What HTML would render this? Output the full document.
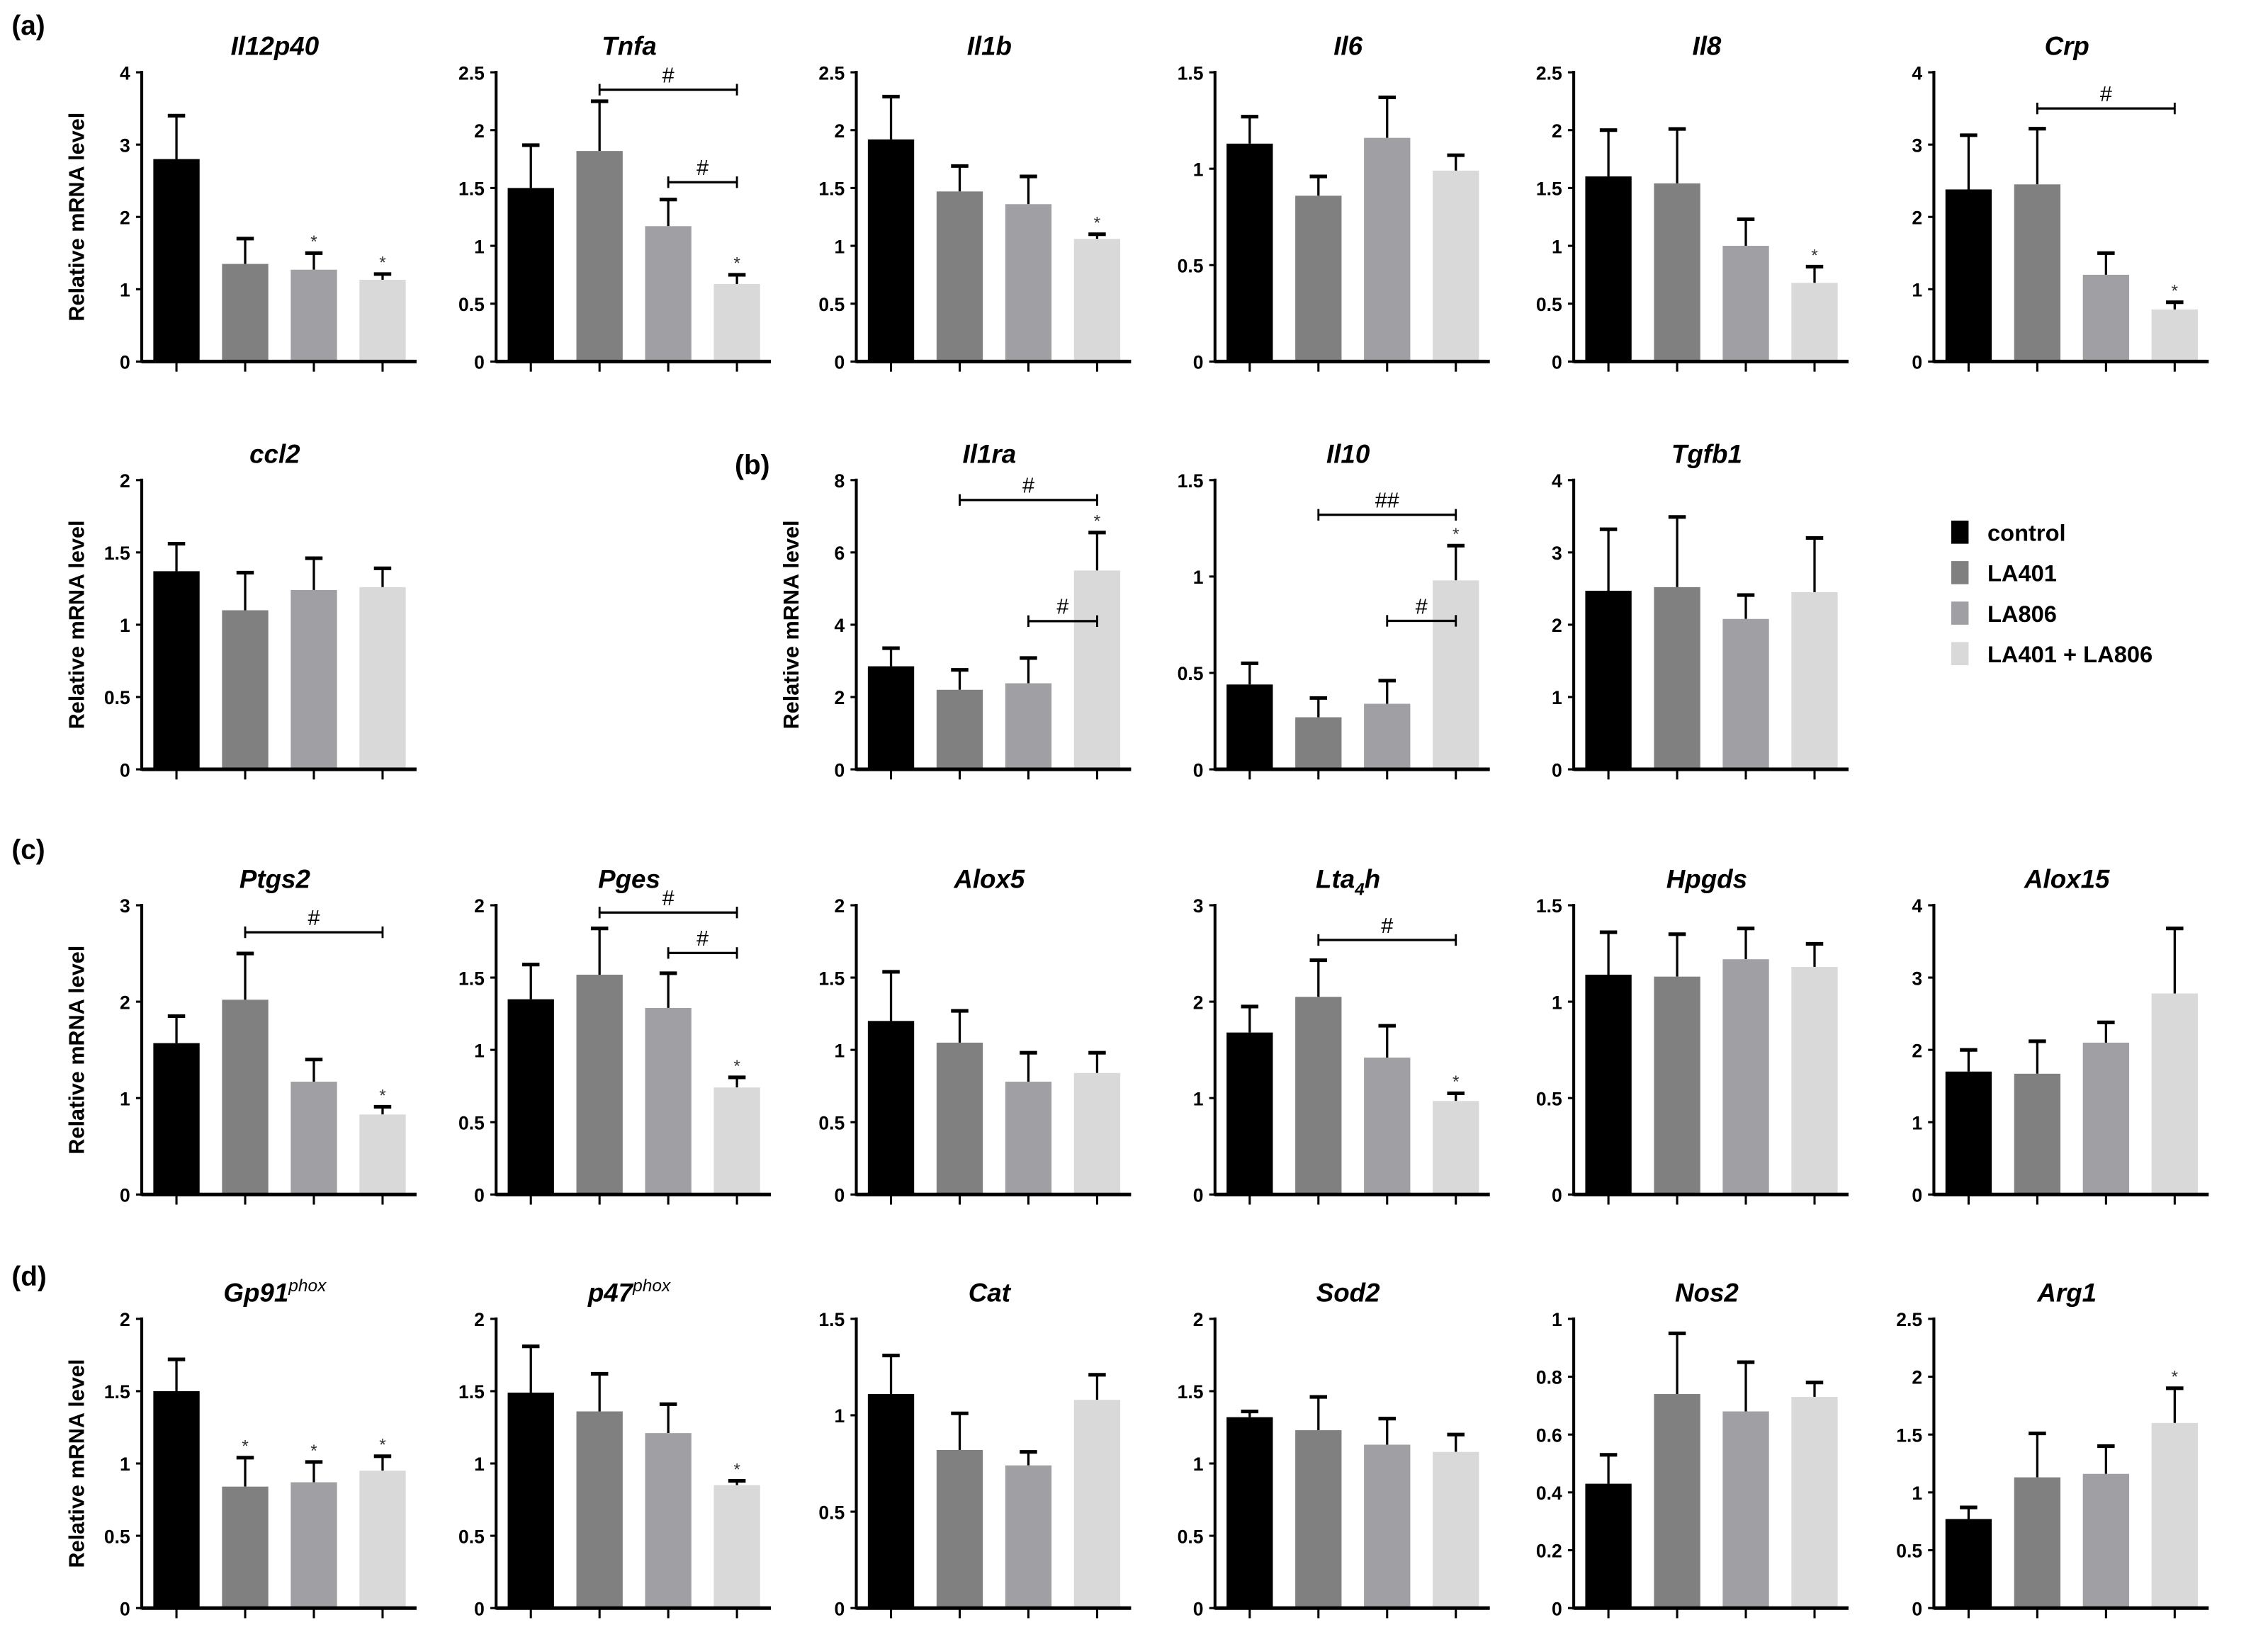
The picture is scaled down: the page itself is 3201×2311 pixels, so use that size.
<!DOCTYPE html>
<html><head><meta charset="utf-8"><style>
html,body{margin:0;padding:0;background:#fff;width:3201px;height:2311px;overflow:hidden}
svg{display:block}
text{font-family:"Liberation Sans",sans-serif}
</style></head><body>
<svg id="fig" width="3201" height="2311" viewBox="0 0 1568 1132" preserveAspectRatio="none" xmlns="http://www.w3.org/2000/svg"></svg>
<script>
const groups = ["control","LA401","LA806","LA401 + LA806"];
const colors = ["#000000","#808080","#a0a0a4","#d9d9d9"];
const titles = ["Il12p40","Tnfa","Il1b","Il6","Il8","Crp","ccl2","Il1ra","Il10","Tgfb1","Ptgs2","Pges","Alox5","Lta4h","Hpgds","Alox15","Gp91","p47","Cat","Sod2","Nos2","Arg1"];
const means = [
 [2.8,1.35,1.27,1.13],[1.5,1.82,1.17,0.67],[1.92,1.47,1.36,1.06],[1.13,0.86,1.16,0.99],[1.6,1.54,1.0,0.68],[2.38,2.45,1.2,0.72],
 [1.37,1.1,1.24,1.26],[2.85,2.2,2.38,5.5],[0.44,0.27,0.34,0.98],[2.47,2.52,2.08,2.45],
 [1.57,2.02,1.17,0.83],[1.35,1.52,1.29,0.74],[1.2,1.05,0.78,0.84],[1.68,2.05,1.42,0.97],[1.14,1.13,1.22,1.18],[1.7,1.67,2.1,2.78],
 [1.5,0.84,0.87,0.95],[1.49,1.36,1.21,0.85],[1.11,0.82,0.74,1.08],[1.32,1.23,1.13,1.08],[0.43,0.74,0.68,0.73],[0.77,1.13,1.16,1.6]];
const errs = [
 [0.6,0.35,0.23,0.08],[0.37,0.43,0.23,0.08],[0.37,0.22,0.24,0.04],[0.14,0.1,0.21,0.08],[0.4,0.47,0.23,0.14],[0.75,0.77,0.3,0.1],
 [0.19,0.26,0.22,0.13],[0.5,0.55,0.7,1.05],[0.11,0.1,0.12,0.18],[0.85,0.97,0.33,0.75],
 [0.28,0.48,0.23,0.08],[0.24,0.32,0.24,0.07],[0.34,0.22,0.2,0.14],[0.27,0.38,0.33,0.08],[0.22,0.22,0.16,0.12],[0.3,0.45,0.28,0.9],
 [0.22,0.2,0.14,0.1],[0.32,0.26,0.2,0.03],[0.2,0.19,0.07,0.13],[0.04,0.23,0.18,0.12],[0.1,0.21,0.17,0.05],[0.1,0.38,0.24,0.3]];
const yMax = [4,2.5,2.5,1.5,2.5,4, 2,8,1.5,4, 3,2,2,3,1.5,4, 2,2,1.5,2,1,2.5];
const yStep = [1,0.5,0.5,0.5,0.5,1, 0.5,2,0.5,1, 1,0.5,0.5,1,0.5,1, 0.5,0.5,0.5,0.5,0.2,0.5];
const stars = [[2,3],[3],[3],[],[3],[3],[],[3],[3],[],[3],[3],[],[3],[],[],[1,2,3],[3],[],[],[],[3]];
// brackets: [fromBar,toBar,yValue,label]
const brackets = [[],[[1,3,2.35,"#"],[2,3,1.55,"#"]],[],[],[],[[1,3,3.5,"#"]],[],[[1,3,7.45,"#"],[2,3,4.1,"#"]],[[1,3,1.32,"##"],[2,3,0.77,"#"]],[],
 [[1,3,2.72,"#"]],[[1,3,1.95,"#"],[2,3,1.67,"#"]],[],[[1,3,2.64,"#"]],[],[],[],[],[],[],[],[]];
// layout
const colX=[98,343,592,840,1088,1337];
const rowBase=[250,532,826,1112];
const slots=[[0,0],[0,1],[0,2],[0,3],[0,4],[0,5],[1,0],[1,2],[1,3],[1,4],[2,0],[2,1],[2,2],[2,3],[2,4],[2,5],[3,0],[3,1],[3,2],[3,3],[3,4],[3,5]];
const H=200, NS="http://www.w3.org/2000/svg", svg=document.getElementById('fig');
function el(tag,attrs,parent,txt){const e=document.createElementNS(NS,tag);for(const k in attrs)e.setAttribute(k,attrs[k]);if(txt!==undefined)e.textContent=txt;(parent||svg).appendChild(e);return e;}
function fmt(v){return String(Math.round(v*10)/10);}
titles.forEach((t,i)=>{
  const [r,c]=slots[i]; const ax=colX[c], y0=rowBase[r];
  const g=el('g',{});
  
  
  const ys=v=>y0-v/yMax[i]*H;
  const xs=k=>ax+24+k*47.5;
  const tt=el('text',{x:ax+92,y:y0-H-12,'text-anchor':'middle','font-size':18,'font-weight':'bold','font-style':'italic'},g);
  
  
  if(t==="Lta4h"){tt.textContent="Lta";el('tspan',{'font-size':12,dy:5},tt,"4");el('tspan',{dy:-5},tt,"h");}
  else if(t==="Gp91"||t==="p47"){tt.textContent=t;el('tspan',{'font-size':12,dy:-7,'font-weight':'normal'},tt,"phox");}
  else tt.textContent=t;
  means[i].forEach((m,k)=>{
    const x=xs(k), top=ys(m), et=ys(m+errs[i][k]);
    el('line',{x1:x,x2:x,y1:top,y2:et,stroke:'#000','stroke-width':1.6},g);
    el('line',{x1:x-6,x2:x+6,y1:et,y2:et,stroke:'#000','stroke-width':2.5},g);
    const b=el('rect',{x:x-16,y:top,width:32,height:y0-top,fill:colors[k]},g);
    
    
    if(stars[i].includes(k)){const s=el('text',{x:x,y:et-4,'text-anchor':'middle','font-size':12,fill:'#333'},g,'*');
      
      }
  });
  brackets[i].forEach(bk=>{
    const x1=xs(bk[0]),x2=xs(bk[1]),y=ys(bk[2]);
    el('line',{x1:x1,x2:x2,y1:y,y2:y,stroke:'#000','stroke-width':1.6},g);
    el('line',{x1:x1,x2:x1,y1:y-4,y2:y+4,stroke:'#000','stroke-width':1.4},g);
    el('line',{x1:x2,x2:x2,y1:y-4,y2:y+4,stroke:'#000','stroke-width':1.4},g);
    const h=el('text',{x:(x1+x2)/2,y:y-5,'text-anchor':'middle','font-size':15},g,bk[3]);
    
    
  });
  el('line',{x1:ax,x2:ax,y1:y0-H-1,y2:y0+1,stroke:'#000','stroke-width':2},g);
  el('line',{x1:ax,x2:ax+190,y1:y0,y2:y0,stroke:'#000','stroke-width':2.5},g);
  for(let k=0;k<4;k++)el('line',{x1:xs(k),x2:xs(k),y1:y0,y2:y0+7,stroke:'#000','stroke-width':1.5},g);
  const n=Math.round(yMax[i]/yStep[i]);
  for(let k=0;k<=n;k++){const v=k*yStep[i],y=ys(v);
    el('line',{x1:ax-4,x2:ax,y1:y,y2:y,stroke:'#000','stroke-width':1.5},g);
    el('text',{x:ax-8,y:y+5,'text-anchor':'end','font-size':13,'font-weight':'bold'},g,fmt(v));}
  if(c===0||i===7){const yl=el('text',{transform:`translate(${ax-40},${y0-H/2}) rotate(-90)`,'text-anchor':'middle','font-size':15,'font-weight':'bold'},g,'Relative mRNA level');
    
    }
});
[["(a)",8,24],["(b)",508,328],["(c)",8,594],["(d)",8,889]].forEach(p=>{
  const l=el('text',{x:p[1],y:p[2],'font-size':19,'font-weight':'bold'},svg,p[0]);
  
  
});
const lg=el('g',{});


groups.forEach((gname,k)=>{
  const y=360+k*28;
  const e=el('g',{},lg);
  
  
  el('rect',{x:1349,y:y,width:12,height:16,fill:colors[k]},e);
  el('text',{x:1374,y:y+14,'font-size':16,'font-weight':'bold'},e,gname);
});
</script>
</body></html>
